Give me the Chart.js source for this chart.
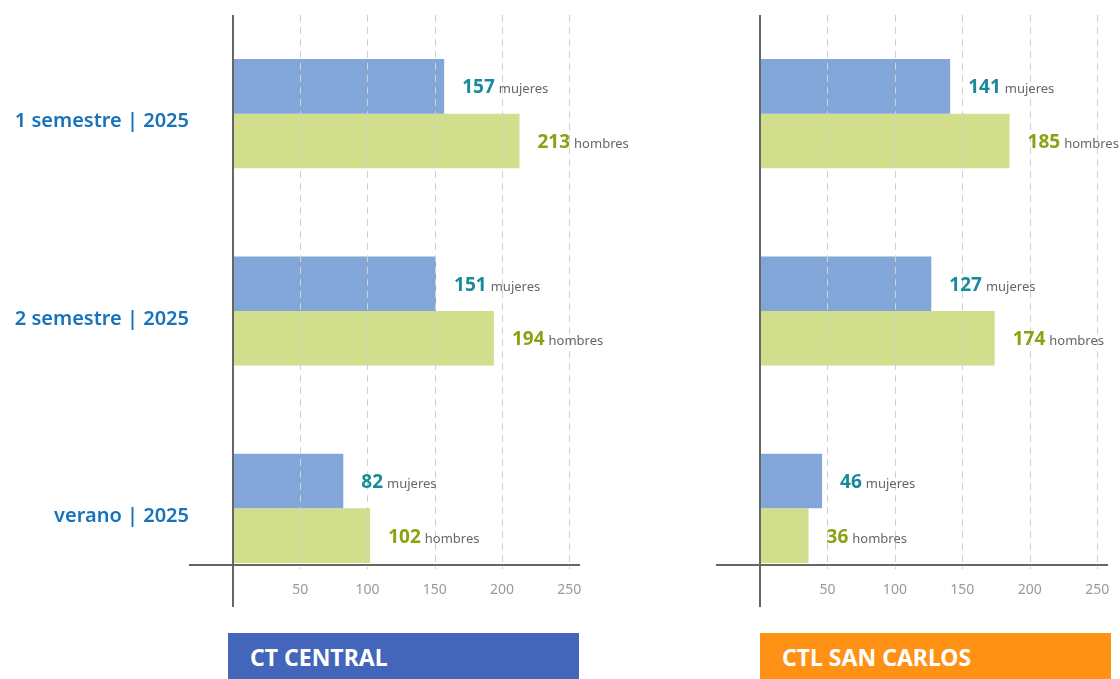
<!DOCTYPE html>
<html lang="es">
<head>
<meta charset="utf-8">
<title>Matrícula por periodo</title>
<script src="https://cdn.jsdelivr.net/npm/chart.js@4.4.1/dist/chart.umd.min.js"></script>
<style>
  body { margin: 0; background: #fff; font-family: "Noto Sans", sans-serif; }
  .wrap { position: relative; width: 1120px; height: 679px; overflow: hidden; }
  .panel { position: absolute; top: 0; height: 620px; }
  .tag {
    position: absolute; top: 633px; width: 351px; height: 46px;
    color: #fff; font-weight: 700; font-size: 23px; line-height: 48px;
    padding-left: 22px; box-sizing: border-box;
  }
</style>
</head>
<body>
<div class="wrap">
  <div class="panel" style="left:0;width:700px"><canvas id="central"></canvas></div>
  <div class="panel" style="left:700px;width:420px"><canvas id="sanCarlos"></canvas></div>
  <div class="tag" style="left:228px;background:#4366ba">CT CENTRAL</div>
  <div class="tag" style="left:760px;background:#ff9114">CTL SAN CARLOS</div>
</div>
<script>
const categories = ['1 semestre | 2025', '2 semestre | 2025', 'verano | 2025'];
const centralMujeres = [157, 151, 82];
const centralHombres = [213, 194, 102];
const sanCarlosMujeres = [141, 127, 46];
const sanCarlosHombres = [185, 174, 36];
const seriesNames = ['mujeres', 'hombres'];
const tickValues = [50, 100, 150, 200, 250];

const barColors = ['#83a6d9', '#d1df8c'];
const numberColors = ['#178a9b', '#8aa312'];

// axis lines, dashed grid, tick labels and (optionally) category names
const axesPlugin = {
  id: 'panelAxes',
  afterDatasetsDraw(chart, args, opts) {
    const { ctx, chartArea, scales: { x, y } } = chart;
    const lastMeta = chart.getDatasetMeta(chart.data.datasets.length - 1).data;
    const lastBar = lastMeta[lastMeta.length - 1];
    const axisY = Math.round(lastBar.y + lastBar.height / 2) + 2;
    const x0 = Math.round(x.getPixelForValue(0));

    ctx.save();
    ctx.strokeStyle = '#d0d0d0';
    ctx.lineWidth = 1;
    ctx.setLineDash([7, 5]);
    tickValues.forEach(v => {
      const px = Math.round(x.getPixelForValue(v)) + 0.5;
      ctx.beginPath();
      ctx.moveTo(px, chartArea.top);
      ctx.lineTo(px, axisY + 4);
      ctx.stroke();
    });
    ctx.setLineDash([]);

    ctx.strokeStyle = '#666';
    ctx.lineWidth = 2;
    ctx.beginPath();
    ctx.moveTo(x0 - 44, axisY);
    ctx.lineTo(chartArea.right, axisY);
    ctx.moveTo(x0, chartArea.top);
    ctx.lineTo(x0, chartArea.bottom);
    ctx.stroke();

    ctx.fillStyle = '#999';
    ctx.font = '14px "Noto Sans"';
    ctx.textAlign = 'center';
    ctx.textBaseline = 'middle';
    tickValues.forEach(v => {
      ctx.fillText(String(v), x.getPixelForValue(v), axisY + 25);
    });

    if (opts.showCategories) {
      ctx.fillStyle = '#1673bb';
      ctx.font = '600 20px "Noto Sans"';
      ctx.textAlign = 'right';
      categories.forEach((c, i) => {
        ctx.fillText(c, x0 - 44, y.getPixelForValue(i) + 8);
      });
    }
    ctx.restore();
  }
};

// "157 mujeres" style labels at the end of each bar
const valueLabels = {
  id: 'valueLabels',
  afterDatasetsDraw(chart) {
    const ctx = chart.ctx;
    ctx.save();
    ctx.textBaseline = 'alphabetic';
    ctx.textAlign = 'left';
    chart.data.datasets.forEach((ds, i) => {
      chart.getDatasetMeta(i).data.forEach((bar, j) => {
        const tx = bar.x + 18;
        const ty = bar.y + 7;
        const num = String(ds.data[j]);
        ctx.font = 'bold 19px "Noto Sans"';
        ctx.fillStyle = numberColors[i];
        ctx.fillText(num, tx, ty);
        const w = ctx.measureText(num).width;
        ctx.font = '13px "Noto Sans"';
        ctx.fillStyle = '#666';
        ctx.fillText(seriesNames[i], tx + w + 4, ty);
      });
    });
    ctx.restore();
  }
};

function makePanel(id, mujeres, hombres, showCategories, padLeft, padRight) {
  new Chart(document.getElementById(id), {
    type: 'bar',
    data: {
      labels: categories,
      datasets: [
        { label: seriesNames[0], data: mujeres, backgroundColor: barColors[0] },
        { label: seriesNames[1], data: hombres, backgroundColor: barColors[1] }
      ]
    },
    options: {
      indexAxis: 'y',
      responsive: true,
      maintainAspectRatio: false,
      animation: false,
      categoryPercentage: 0.553,
      barPercentage: 1,
      layout: {
        padding: { top: 15, bottom: 13, left: padLeft, right: padRight }
      },
      scales: {
        x: { display: false, min: 0, max: 258 },
        y: { display: false }
      },
      plugins: {
        legend: { display: false },
        tooltip: { enabled: false },
        panelAxes: { showCategories: showCategories }
      }
    },
    plugins: [axesPlugin, valueLabels]
  });
}

makePanel('central', centralMujeres, centralHombres, true, 233, 120);
makePanel('sanCarlos', sanCarlosMujeres, sanCarlosHombres, false, 60, 12);
</script>
</body>
</html>
